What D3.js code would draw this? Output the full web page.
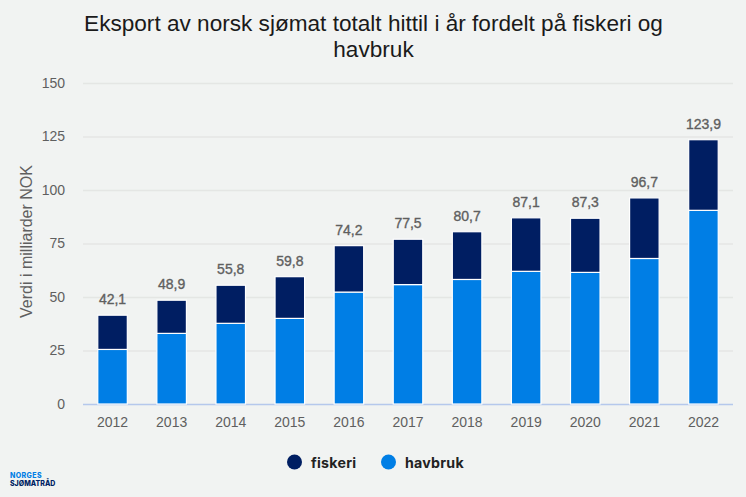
<!DOCTYPE html>
<html>
<head>
<meta charset="utf-8">
<script src="https://cdn.jsdelivr.net/npm/d3@7"></script>
<style>
html, body { margin: 0; padding: 0; background: #f1f3f2; }
svg { display: block; font-family: "Liberation Sans", Arial, sans-serif; }
</style>
</head>
<body>
<script>
const years = ["2012", "2013", "2014", "2015", "2016", "2017", "2018", "2019", "2020", "2021", "2022"];
const havbruk = [25.5, 33, 37.7, 40, 52.3, 55.8, 58.2, 62, 61.5, 68, 90.5];
const fiskeri = [16, 15.5, 17.8, 19.5, 21.7, 21.2, 22.3, 25, 25.3, 28.3, 33];
const totals = ["42,1", "48,9", "55,8", "59,8", "74,2", "77,5", "80,7", "87,1", "87,3", "96,7", "123,9"];
const yTicks = [0, 25, 50, 75, 100, 125, 150];
const titleLines = ["Eksport av norsk sjømat totalt hittil i år fordelt på fiskeri og", "havbruk"];
const legendItems = ["fiskeri", "havbruk"];

const colors = { fiskeri: "#001e62", havbruk: "#007ee5" };
const width = 746, height = 497;
const margin = { top: 83, right: 13, bottom: 93, left: 83 };

const svg = d3.select("body").append("svg")
    .attr("width", width)
    .attr("height", height);

const x = d3.scaleBand()
    .domain(years)
    .range([margin.left, width - margin.right])
    .paddingInner(0.5)
    .paddingOuter(0.25);

const y = d3.scaleLinear()
    .domain([0, 150])
    .range([height - margin.bottom, margin.top]);

// Title
svg.append("g").selectAll("text")
    .data(titleLines)
    .join("text")
    .attr("x", 373.5)
    .attr("y", (d, i) => 31 + i * 26)
    .attr("text-anchor", "middle")
    .attr("font-size", 22.6)
    .attr("fill", "#1a1a1a")
    .text(d => d);

// Y axis and gridlines
const yAxis = svg.append("g")
    .attr("transform", `translate(${margin.left},0)`)
    .call(d3.axisLeft(y).tickValues(yTicks).tickSize(0).tickPadding(18)
        .tickFormat(d => d));
yAxis.select(".domain").remove();
yAxis.selectAll("text")
    .attr("font-size", 14)
    .attr("font-family", "Liberation Sans, Arial, sans-serif")
    .attr("fill", "#5f5f5f");
yAxis.selectAll("line")
    .attr("x2", width - margin.right - margin.left)
    .attr("stroke", d => d === 0 ? "#b5c8ec" : "#e4e6e4")
    .attr("stroke-width", 1.5);

svg.append("text")
    .attr("transform", `translate(32,${y(75) - 2}) rotate(-90)`)
    .attr("text-anchor", "middle")
    .attr("font-size", 16)
    .attr("fill", "#5f5f5f")
    .text("Verdi i milliarder NOK");

// X axis
const xAxis = svg.append("g")
    .attr("transform", `translate(0,${y(0)})`)
    .call(d3.axisBottom(x).tickSize(0).tickPadding(13));
xAxis.select(".domain").remove();
xAxis.selectAll("text")
    .attr("font-size", 14)
    .attr("font-family", "Liberation Sans, Arial, sans-serif")
    .attr("fill", "#5f5f5f");

// Bars
const bars = svg.append("g");
bars.selectAll("rect.havbruk")
    .data(years)
    .join("rect")
    .attr("class", "havbruk")
    .attr("x", d => x(d))
    .attr("y", (d, i) => y(havbruk[i]))
    .attr("width", x.bandwidth())
    .attr("height", (d, i) => y(0) - y(havbruk[i]))
    .attr("fill", colors.havbruk)
    .attr("stroke", "#ffffff")
    .attr("stroke-width", 1.2);
bars.selectAll("rect.fiskeri")
    .data(years)
    .join("rect")
    .attr("class", "fiskeri")
    .attr("x", d => x(d))
    .attr("y", (d, i) => y(havbruk[i] + fiskeri[i]))
    .attr("width", x.bandwidth())
    .attr("height", (d, i) => y(havbruk[i]) - y(havbruk[i] + fiskeri[i]))
    .attr("fill", colors.fiskeri)
    .attr("stroke", "#ffffff")
    .attr("stroke-width", 1.2);

// Total labels, white halo under a slightly heavier gray text
svg.append("g").selectAll("text")
    .data(years)
    .join("text")
    .attr("x", d => x(d) + x.bandwidth() / 2)
    .attr("y", (d, i) => y(havbruk[i] + fiskeri[i]) - 11)
    .attr("text-anchor", "middle")
    .attr("font-size", 14)
    .attr("fill", "#5f5f5f")
    .attr("stroke", "#5f5f5f")
    .attr("stroke-width", 0.35)
    .text((d, i) => totals[i]);

// Legend
const legendX = [294.5, 388.5];
const legend = svg.append("g").selectAll("g")
    .data(legendItems)
    .join("g")
    .attr("transform", (d, i) => `translate(${legendX[i]},462)`);
legend.append("circle")
    .attr("r", 7.5)
    .attr("fill", d => colors[d]);
legend.append("text")
    .attr("x", 16.5)
    .attr("y", 6)
    .attr("font-family", "Inter, sans-serif")
    .attr("font-size", 14.2)
    .attr("font-weight", 700)
    .attr("letter-spacing", 0.25)
    .attr("fill", "#222222")
    .text(d => d);

// Logo text
svg.append("text")
    .attr("x", 10)
    .attr("y", 478)
    .attr("font-family", "Inter, sans-serif")
    .attr("font-size", 7)
    .attr("font-weight", 800)
    .attr("letter-spacing", 0.4)
    .attr("fill", colors.havbruk)
    .text("NORGES");
svg.append("text")
    .attr("x", 10)
    .attr("y", 485.5)
    .attr("font-family", "Inter, sans-serif")
    .attr("font-size", 7)
    .attr("font-weight", 800)
    .attr("fill", colors.fiskeri)
    .text("SJØMATRÅD");
</script>
</body>
</html>
